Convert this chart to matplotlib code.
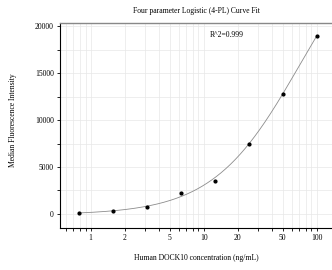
import numpy as np
import matplotlib
matplotlib.use('Agg')
import matplotlib.pyplot as plt
from matplotlib.ticker import FixedLocator, NullFormatter, MultipleLocator

# standard curve points
conc = [0.78125, 1.5625, 3.125, 6.25, 12.5, 25, 50, 100]
mfi = [60, 290, 720, 2260, 3550, 7420, 12830, 18920]
r2_text = 'R^2=0.999'
x_major = [1, 2, 5, 10, 20, 50, 100]
x_minor = [0.6, 0.7, 0.8, 0.9, 3, 4, 6, 7, 8, 9, 30, 40, 60, 70, 80, 90, 200]
y_major = [0, 5000, 10000, 15000, 20000]


def fourpl(x, p):
    a, b, c, d = p
    return d + (a - d) / (1 + (x / c) ** b)


def fit4pl(x, y, p0, n_iter=200):
    # small Levenberg-Marquardt, no scipy here
    p = np.array(p0, dtype=float)
    lam = 1e-3
    for _ in range(n_iter):
        r = y - fourpl(x, p)
        J = np.zeros((len(x), 4))
        for k in range(4):
            dp = np.zeros(4)
            dp[k] = 1e-6 * max(abs(p[k]), 1.0)
            J[:, k] = (fourpl(x, p + dp) - fourpl(x, p)) / dp[k]
        A = J.T @ J
        g = J.T @ r
        step = np.linalg.solve(A + lam * np.diag(np.diag(A)), g)
        pn = p + step
        if pn[2] > 0 and np.sum((y - fourpl(x, pn)) ** 2) < np.sum(r ** 2):
            p = pn
            lam *= 0.5
        else:
            lam *= 5
    return p


x = np.array(conc)
y = np.array(mfi, dtype=float)
params = fit4pl(x, y, [0, 1.5, 60, 35000])

plt.rcParams['font.family'] = ['Liberation Serif', 'DejaVu Serif']
fig = plt.figure(figsize=(3.32, 2.7), dpi=100)
ax = fig.add_axes([60 / 332, 42 / 270, 1 - 60 / 332, 205 / 270])

xs = np.logspace(np.log10(conc[0]), np.log10(conc[-1]), 300)
ax.plot(xs, fourpl(xs, params), color='#8c8c8c', lw=0.6)
ax.plot(conc, mfi, 'o', color='black', ms=2)

ax.set_xscale('log')
ax.set_xlim(0.535, 137)
ax.set_ylim(-1500, 20350)
ax.xaxis.set_major_locator(FixedLocator(x_major))
ax.xaxis.set_minor_locator(FixedLocator(x_minor))
ax.xaxis.set_minor_formatter(NullFormatter())
ax.set_xticklabels([str(v) for v in x_major])
ax.yaxis.set_major_locator(FixedLocator(y_major))
ax.yaxis.set_minor_locator(MultipleLocator(2500))

ax.grid(True, which='both', color='#e8e8e8', lw=0.5)
ax.set_axisbelow(True)
ax.spines['right'].set_visible(False)
ax.spines['top'].set_color('#888888')
ax.spines['top'].set_linewidth(1.0)
ax.spines['left'].set_linewidth(0.8)
ax.spines['bottom'].set_linewidth(0.8)
ax.tick_params(which='both', direction='out', length=2.5, width=0.6, labelsize=5.5, pad=2)

ax.text(0.55, 0.94, r2_text, transform=ax.transAxes, fontsize=5.5, ha='left', va='center')
fig.text(0.5 + 30 / 332, 1 - 11 / 270, 'Four parameter Logistic (4-PL) Curve Fit',
         ha='center', va='center', fontsize=5.5)
fig.text(0.5 + 30 / 332, 1 - 258 / 270, 'Human DOCK10 concentration (ng/mL)',
         ha='center', va='center', fontsize=5.5)
fig.text(13 / 332, 1 - 120 / 270, 'Median Fluorescence Intensity',
         ha='center', va='center', rotation=90, fontsize=5.5)

fig.savefig('out.png', dpi=100)
